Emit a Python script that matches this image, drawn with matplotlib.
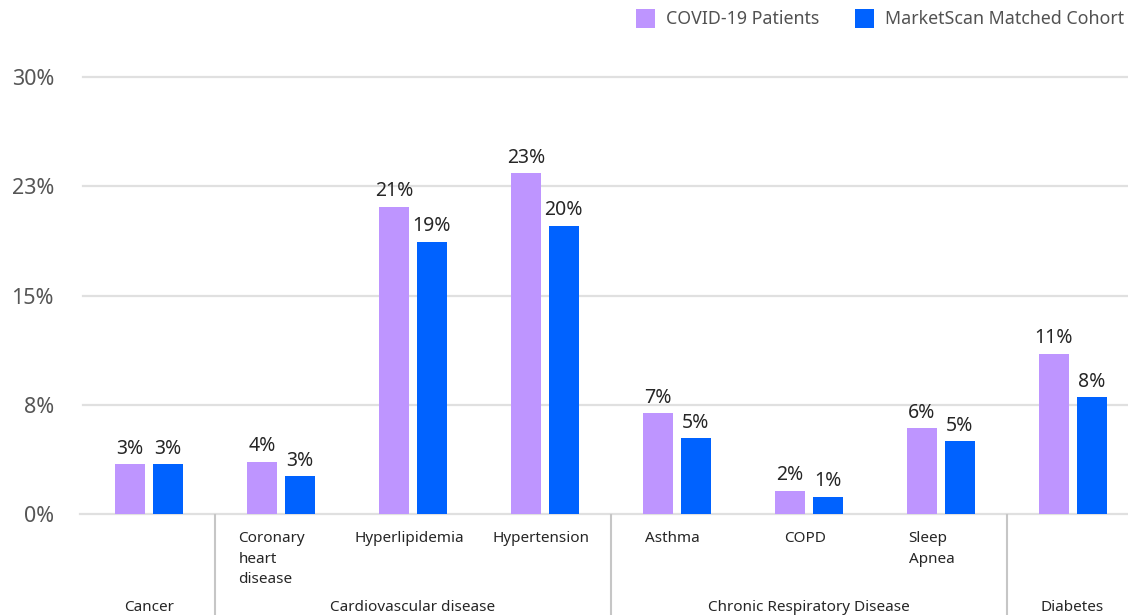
import matplotlib
matplotlib.use("Agg")
import matplotlib.pyplot as plt
from matplotlib.patches import Rectangle

categories = ["Cancer", "Coronary\nheart\ndisease", "Hyperlipidemia", "Hypertension",
              "Asthma", "COPD", "Sleep\nApnea", "Diabetes"]
groups = ["Cancer", "Cardiovascular disease", "Chronic Respiratory Disease", "Diabetes"]
group_sizes = [1, 3, 3, 1]
covid = [3.4, 3.6, 21.1, 23.4, 6.9, 1.6, 5.9, 11.0]
matched = [3.4, 2.6, 18.7, 19.8, 5.2, 1.2, 5.0, 8.0]
series_names = ["COVID-19 Patients", "MarketScan Matched Cohort"]
yticks = [0, 7.5, 15, 22.5, 30]
ytick_labels = ["0%", "8%", "15%", "23%", "30%"]

c_purple = "#be95ff"
c_blue = "#0062ff"
grid_c = "#e0e0e0"
plt.rcParams['font.family'] = ['Noto Sans', 'DejaVu Sans']

W, H = 1128, 615
fig = plt.figure(figsize=(W / 100, H / 100), dpi=100)
fig.patch.set_facecolor("white")
left = 83 / W
bottom = (H - 514) / H
top = (H - 77) / H
ax = fig.add_axes([left, bottom, 1 - left, top - bottom])
ax.set_xlim(-0.5, 7.42)
ax.set_ylim(0, 30)

bw = 0.228
gap = 0.06
x = list(range(len(categories)))
xp = [i - (bw + gap) / 2 for i in x]
xb = [i + (bw + gap) / 2 for i in x]
ax.bar(xp, covid, width=bw, color=c_purple, zorder=3)
ax.bar(xb, matched, width=bw, color=c_blue, zorder=3)

for xi, v in zip(xp, covid):
    ax.annotate(f"{round(v)}%", (xi, v), xytext=(0, 4), textcoords="offset points",
                ha="center", va="bottom", fontsize=14, color="#262626")
for xi, v in zip(xb, matched):
    ax.annotate(f"{round(v)}%", (xi, v), xytext=(0, 4), textcoords="offset points",
                ha="center", va="bottom", fontsize=14, color="#262626")

ax.set_yticks(yticks)
ax.set_yticklabels(ytick_labels, fontsize=15.5, color="#565656")
ax.tick_params(axis="y", length=0, pad=21)
ax.set_xticks([])
for yt in yticks:
    ax.axhline(yt, color=grid_c, linewidth=1.6, zorder=1, clip_on=False,
               xmin=-0.003 if yt == 0 else 0, xmax=1)
for s in ax.spines.values():
    s.set_visible(False)

# category labels
for i, lab in enumerate(categories):
    if lab in groups and group_sizes[groups.index(lab)] == 1:
        continue
    dx = -0.07 if "\n" in lab else -0.03
    ax.text(i + dx, -1.2, lab, ha="center", va="top", fontsize=11, color="#262626",
            multialignment="left", linespacing=1.5)

# group labels and separators
start = 0
for g, n in zip(groups, group_sizes):
    center = start + (n - 1) / 2
    ax.text(center, -6.4, g, ha="center", va="center", fontsize=11, color="#262626")
    start += n
    if start < len(categories):
        ax.plot([start - 0.5, start - 0.5], [-0.1, -7.5], color="#c6c6c6", linewidth=1.5,
                clip_on=False, zorder=1)

# legend
for name, col, lx in zip(series_names, [c_purple, c_blue], [636, 855]):
    fig.patches.append(Rectangle((lx / W, (H - 28) / H), 19 / W, 19 / H,
                                 transform=fig.transFigure, facecolor=col, edgecolor="none"))
    fig.text((lx + 30) / W, (H - 18.5) / H, name, ha="left", va="center",
             fontsize=12.8, color="#525252")

fig.savefig("out.png", dpi=100, facecolor="white")
